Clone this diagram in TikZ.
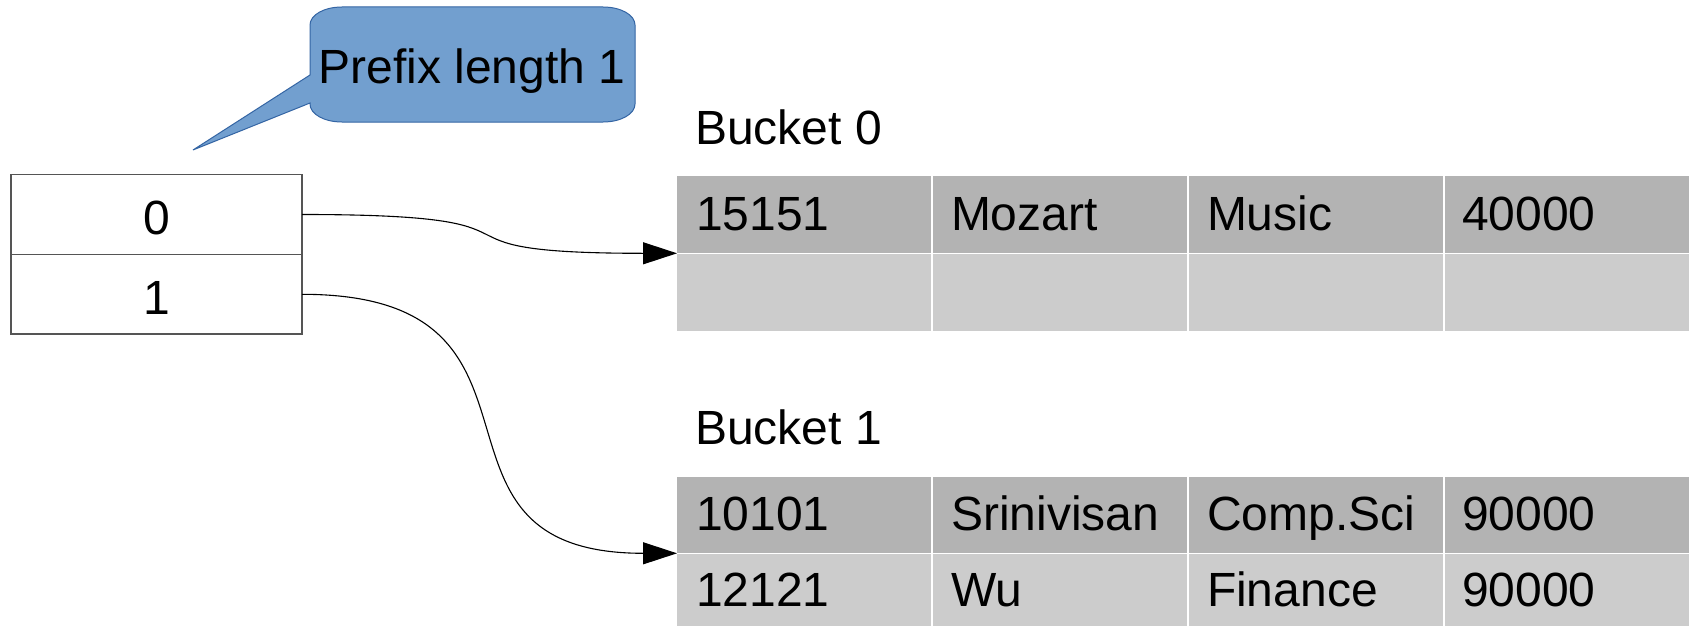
\documentclass[tikz,border=0pt]{standalone}
\usepackage{fontspec}
\setmainfont{Liberation Sans}
\usetikzlibrary{arrows.meta}
\definecolor{calloutfill}{HTML}{729FCF}
\definecolor{calloutdraw}{HTML}{3465A4}
\definecolor{rowdark}{HTML}{B3B3B3}
\definecolor{rowlight}{HTML}{CCCCCC}
\definecolor{dirline}{HTML}{555555}
\tikzset{
  txt/.style={font=\fontsize{48pt}{57pt}\selectfont, inner sep=0pt, outer sep=0pt},
  cellt/.style={txt, anchor=base west},
  dircell/.style={draw=dirline, line width=1.5pt, minimum width=291pt, inner sep=0pt, outer sep=0pt},
  conn/.style={draw=black, line width=1.1pt, -{Triangle[length=34pt,width=22pt]}},
  sep/.style={draw=white, line width=1.2pt},
  callout/.style={fill=calloutfill, draw=calloutdraw, line width=1pt}
}
\begin{document}
\begin{tikzpicture}[x=1pt,y=-1pt]
\fill[white] (0,0) rectangle (1689,626);
\useasboundingbox (0,0) rectangle (1689,626);

% callout
\path[callout] (310,75) -- (310,25) .. controls (310,15) and (324,7) .. (342,7)
  -- (603,7) .. controls (621,7) and (635,15) .. (635,25)
  -- (635,104) .. controls (635,114) and (621,122) .. (603,122)
  -- (342,122) .. controls (324,122) and (310,114) .. (310,104)
  -- (310,103) -- (193,150) -- cycle;
\node[txt, anchor=base] (cap) at (472,83.3) {Prefix length 1};

% directory
\node[dircell, minimum height=80pt] (d0) at (156.5,214.5) {};
\node[dircell, minimum height=79.5pt] (d1) at (156.5,294.3) {};
\node[txt, anchor=base] (l0) at (156.5,234) {0};
\node[txt, anchor=base] (l1) at (156.5,314) {1};

% bucket 0
\node[cellt] (bl0) at (695,144.3) {Bucket 0};
\fill[rowdark] (677,175.6) rectangle (1689,253.3);
\fill[rowlight] (677,253.3) rectangle (1689,330.5);
\draw[sep] (677,253.3) -- (1689,253.3);
\foreach \x in {932,1188,1444} \draw[sep] (\x,175.6) -- (\x,330.5);
\node[cellt] (a1) at (696,230) {15151};
\node[cellt] (a2) at (951,230) {Mozart};
\node[cellt] (a3) at (1207,230) {Music};
\node[cellt] (a4) at (1462,230) {40000};
\coordinate (b0) at (677,253.3);

% bucket 1
\node[cellt] (bl1) at (695,444.3) {Bucket 1};
\fill[rowdark] (677,476.7) rectangle (1689,553.3);
\fill[rowlight] (677,553.3) rectangle (1689,626);
\draw[sep] (677,553.3) -- (1689,553.3);
\foreach \x in {932,1188,1444} \draw[sep] (\x,476.7) -- (\x,626);
\node[cellt] (c1) at (696,530) {10101};
\node[cellt] (c2) at (951,530) {Srinivisan};
\node[cellt] (c3) at (1207,530) {Comp.Sci};
\node[cellt] (c4) at (1462,530) {90000};
\node[cellt] (e1) at (696,606.7) {12121};
\node[cellt] (e2) at (951,606.7) {Wu};
\node[cellt] (e3) at (1207,606.7) {Finance};
\node[cellt] (e4) at (1462,606.7) {90000};
\coordinate (b1) at (677,553.3);

% connectors
\draw[conn] (d0.east) .. controls +(280,0) and +(-280,0) .. (b0);
\draw[conn] (d1.east) .. controls +(280,0) and +(-280,0) .. (b1);
\end{tikzpicture}
\end{document}
